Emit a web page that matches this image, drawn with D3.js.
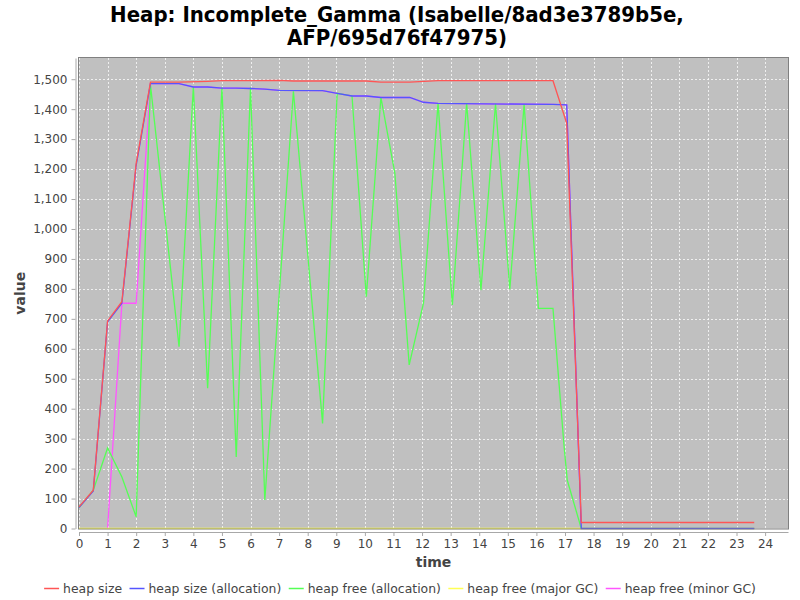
<!DOCTYPE html>
<html>
<head>
<meta charset="utf-8">
<script src="https://cdn.jsdelivr.net/npm/d3@7"></script>
<style>
  body { margin: 0; background: #fff; }
  .tick text { font-family: "DejaVu Sans", sans-serif; font-size: 12px; fill: #444; }
</style>
</head>
<body>
<div id="chart"></div>
<script>
var svgWidth = 800;
var svgHeight = 600;

// plot rectangle (inside the axes)
var plot = { left: 79, right: 788, top: 58, bottom: 528.5 };

// series data
var sizeTime = [0, 0.5, 1.0, 1.5, 2.0, 2.5, 3.5, 4.5, 5.0, 7.0, 7.5, 10.05, 10.56, 11.57, 12.56, 16.58, 17.06, 17.57, 23.62];
var sizeValues = [72, 128, 693, 757, 1219, 1490, 1490, 1493, 1495, 1496, 1494, 1494, 1490, 1490, 1495, 1495, 1353, 20, 20];

var allocTime = [0, 0.5, 1.0, 1.5, 2.0, 2.5, 3.5, 4.0, 4.5, 5.0, 5.5, 6.0, 6.5, 7.0, 8.52, 9.03, 9.55, 10.05, 10.56, 11.57, 12.05, 12.56, 16.58, 17.06, 17.57, 23.62];
var allocValues = [70, 125, 690, 752, 1212, 1485, 1485, 1474, 1474, 1470, 1470, 1469, 1467, 1463, 1462, 1453, 1444, 1444, 1439, 1439, 1423, 1419, 1416, 1414, 0, 0];

var freeTime = [0, 0.5, 1.0, 1.5, 2.0, 2.5, 3.5, 4.0, 4.5, 5.0, 5.5, 6.0, 6.5, 7.5, 8.52, 9.03, 9.55, 10.05, 10.56, 11.05, 11.55, 12.05, 12.56, 13.06, 13.56, 14.06, 14.57, 15.07, 15.57, 16.07, 16.58, 16.97, 17.08, 17.57, 23.62];
var freeValues = [70, 128, 269, 172, 39, 1481, 607, 1475, 468, 1473, 239, 1473, 95, 1460, 351, 1453, 1444, 774, 1439, 1186, 546, 752, 1420, 746, 1420, 796, 1418, 799, 1416, 735, 735, 273, 161, 0, 0];

var majorTime = [0, 23.62];
var majorValues = [0, 0];

var minorTime = [1.0, 1.5, 2.0, 2.5, 3.5, 4.0, 4.5, 5.0, 5.5, 6.0, 6.5, 7.0, 8.52, 9.03, 9.55, 10.05, 10.56, 11.57, 12.05, 12.56, 16.58, 17.06, 17.57, 23.62];
var minorValues = [0, 752, 752, 1485, 1485, 1474, 1474, 1470, 1470, 1469, 1467, 1463, 1462, 1453, 1444, 1444, 1439, 1439, 1423, 1419, 1416, 1414, 0, 0];

var seriesNames = ["heap size", "heap size (allocation)", "heap free (allocation)", "heap free (major GC)", "heap free (minor GC)"];
var seriesColors = ["#ff5555", "#5555ff", "#55ff55", "#ffff55", "#ff55ff"];

var xTicks = d3.range(0, 25);
var yTicks = d3.range(0, 1501, 100);

var series = [
  { time: sizeTime, values: sizeValues },
  { time: allocTime, values: allocValues },
  { time: freeTime, values: freeValues },
  { time: majorTime, values: majorValues },
  { time: minorTime, values: minorValues }
];

var svg = d3.select("#chart")
  .append("svg")
  .attr("width", svgWidth)
  .attr("height", svgHeight);

// auto range: sticky zero, 5% upper margin
var xMax = d3.max(series, s => d3.max(s.time)) * 1.05;
var yMax = d3.max(series, s => d3.max(s.values)) * 1.05;

var xScale = d3.scaleLinear().domain([0, xMax]).range([plot.left, plot.right]);
var yScale = d3.scaleLinear().domain([0, yMax]).range([plot.bottom, plot.top]);

// title
var title = svg.append("g")
  .attr("font-family", "'DejaVu Sans Condensed', 'DejaVu Sans', sans-serif")
  .attr("font-weight", "bold")
  .attr("font-size", 22)
  .attr("text-anchor", "middle");
title.append("text").attr("x", 397).attr("y", 22).text("Heap: Incomplete_Gamma (Isabelle/8ad3e3789b5e,");
title.append("text").attr("x", 397).attr("y", 45).text("AFP/695d76f47975)");

// plot background
svg.append("rect")
  .attr("x", plot.left)
  .attr("y", plot.top)
  .attr("width", plot.right - plot.left)
  .attr("height", plot.bottom - plot.top)
  .attr("fill", "#c0c0c0");

// grid lines
var grid = svg.append("g")
  .attr("stroke", "#ffffff")
  .attr("stroke-opacity", 0.75)
  .attr("stroke-width", 1)
  .attr("stroke-dasharray", "2,2");
grid.selectAll(".vgrid")
  .data(xTicks)
  .enter()
  .append("line")
  .attr("x1", d => Math.round(xScale(d)) + 0.5)
  .attr("x2", d => Math.round(xScale(d)) + 0.5)
  .attr("y1", plot.top)
  .attr("y2", plot.bottom);
grid.selectAll(".hgrid")
  .data(yTicks)
  .enter()
  .append("line")
  .attr("x1", plot.left)
  .attr("x2", plot.right)
  .attr("y1", d => Math.round(yScale(d)) + 0.5)
  .attr("y2", d => Math.round(yScale(d)) + 0.5);

// lines, drawn in reverse so that the first series is on top
var line = d3.line()
  .x(d => xScale(d[0]))
  .y(d => yScale(d[1]));

svg.append("clipPath").attr("id", "plotclip")
  .append("rect")
  .attr("x", plot.left)
  .attr("y", plot.top - 1)
  .attr("width", plot.right - plot.left)
  .attr("height", plot.bottom - plot.top + 2);

var linesGroup = svg.append("g").attr("clip-path", "url(#plotclip)");
for (var i = series.length - 1; i >= 0; i--) {
  var pts = series[i].time.map((t, j) => [t, series[i].values[j]]);
  linesGroup.append("path")
    .datum(pts)
    .attr("fill", "none")
    .attr("stroke", seriesColors[i])
    .attr("stroke-width", 1.3)
    .attr("d", line);
}

// plot outline
svg.append("rect")
  .attr("x", plot.left - 0.5)
  .attr("y", plot.top - 0.5)
  .attr("width", plot.right - plot.left + 1)
  .attr("height", plot.bottom - plot.top + 1)
  .attr("fill", "none")
  .attr("stroke", "#808080");

// axes
svg.append("g")
  .attr("transform", `translate(0, ${plot.bottom + 3.5})`)
  .call(d3.axisBottom(xScale).tickValues(xTicks).tickSize(4).tickPadding(3).tickSizeOuter(0));

svg.append("g")
  .attr("transform", `translate(${plot.left - 3.5}, 0)`)
  .call(d3.axisLeft(yScale).tickValues(yTicks).tickFormat(d3.format(",")).tickSize(4).tickPadding(4).tickSizeOuter(0));

svg.selectAll(".domain").attr("stroke", "#a8a8a8");
svg.selectAll(".tick line").attr("stroke", "#a8a8a8");

// axis labels
svg.append("text")
  .attr("x", (plot.left + plot.right) / 2)
  .attr("y", 567)
  .attr("text-anchor", "middle")
  .attr("font-family", "'DejaVu Sans', sans-serif")
  .attr("font-weight", "bold")
  .attr("font-size", 14)
  .attr("fill", "#444")
  .text("time");

svg.append("text")
  .attr("transform", `translate(25, ${(plot.top + plot.bottom) / 2}) rotate(-90)`)
  .attr("text-anchor", "middle")
  .attr("font-family", "'DejaVu Sans', sans-serif")
  .attr("font-weight", "bold")
  .attr("font-size", 14)
  .attr("fill", "#444")
  .text("value");

// legend
var legend = svg.append("g")
  .attr("font-family", "'DejaVu Sans', sans-serif")
  .attr("font-size", 12.4)
  .attr("fill", "#444");

var lx = 0;
seriesNames.forEach(function(name, i) {
  var item = legend.append("g").attr("transform", `translate(${lx}, 0)`);
  item.append("line")
    .attr("x1", 0).attr("x2", 15)
    .attr("y1", 588.5).attr("y2", 588.5)
    .attr("stroke", seriesColors[i])
    .attr("stroke-width", 1.5);
  var txt = item.append("text")
    .attr("x", 19)
    .attr("y", 593)
    .text(name);
  lx += 19 + txt.node().getComputedTextLength() + 7.5;
});
var legendWidth = lx - 7.5;
legend.attr("transform", `translate(${400 - legendWidth / 2}, 0)`);
</script>
</body>
</html>
